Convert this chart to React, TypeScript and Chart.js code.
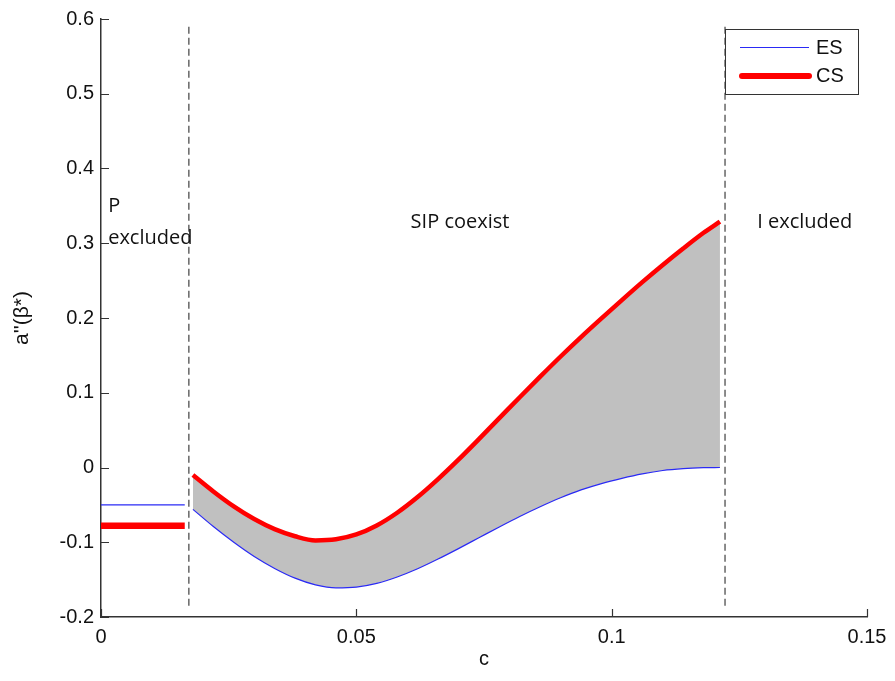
import React, { useEffect, useRef } from 'react';
import { Chart, registerables } from 'chart.js';

Chart.register(...registerables);

// ---- data ----
const coexistC = [0.018, 0.022, 0.026, 0.030, 0.034, 0.038, 0.042, 0.046, 0.050, 0.054, 0.058, 0.062, 0.066, 0.070, 0.074, 0.078, 0.082, 0.086, 0.090, 0.094, 0.098, 0.102, 0.106, 0.110, 0.114, 0.118, 0.1212];
const csValues = [-0.010, -0.032, -0.052, -0.069, -0.0825, -0.092, -0.0975, -0.096, -0.0895, -0.0775, -0.0605, -0.0395, -0.0155, 0.0105, 0.038, 0.066, 0.094, 0.1215, 0.1485, 0.1745, 0.1995, 0.224, 0.248, 0.271, 0.293, 0.314, 0.329];
const esValues = [-0.056, -0.079, -0.100, -0.119, -0.135, -0.148, -0.157, -0.161, -0.160, -0.155, -0.1465, -0.1355, -0.1225, -0.1085, -0.094, -0.0795, -0.0655, -0.0525, -0.0405, -0.030, -0.0215, -0.0145, -0.0085, -0.004, -0.0015, -0.0003, 0.0];
const pExcludedC = [0, 0.0164];
const esPExcluded = -0.05;
const csPExcluded = -0.078;
const boundaries = [0.0172, 0.1222];
const boundarySpan = [-0.185, 0.59];
const xTicks = [0, 0.05, 0.1, 0.15];
const yTicks = [-0.2, -0.1, 0, 0.1, 0.2, 0.3, 0.4, 0.5, 0.6];
const regionLabels = [
  { lines: ['P', 'excluded'], c: 0.0014, v: 0.349, align: 'left' },
  { lines: ['SIP coexist'], c: 0.0703, v: 0.3276, align: 'center' },
  { lines: ['I excluded'], c: 0.1285, v: 0.3276, align: 'left' },
];
const seriesNames = ['ES', 'CS'];

const BLUE = '#2a2af5';
const RED = '#ff0000';
const AXIS = '#333333';
const TICK_FONT = '20px "Liberation Sans", Arial, sans-serif';

const fmt = (v: number) => String(Number(v.toFixed(3)));

const decorPlugin = {
  id: 'decor',
  afterDraw(chart: any) {
    const { ctx, chartArea, scales } = chart;
    const xs = scales.x;
    const ys = scales.y;
    ctx.save();
    // inward ticks
    ctx.strokeStyle = AXIS;
    ctx.lineWidth = 1.2;
    ctx.beginPath();
    yTicks.forEach((t) => {
      const py = Math.round(ys.getPixelForValue(t)) + 0.5;
      ctx.moveTo(chartArea.left, py);
      ctx.lineTo(chartArea.left + 8, py);
    });
    xTicks.forEach((t) => {
      const px = Math.round(xs.getPixelForValue(t)) + 0.5;
      ctx.moveTo(px, chartArea.bottom);
      ctx.lineTo(px, chartArea.bottom - 8);
    });
    ctx.stroke();

    // region labels
    ctx.fillStyle = '#111';
    ctx.font = '20px "Open Sans", sans-serif';
    ctx.textBaseline = 'middle';
    regionLabels.forEach((r) => {
      ctx.textAlign = r.align as CanvasTextAlign;
      const px = xs.getPixelForValue(r.c);
      const py = ys.getPixelForValue(r.v);
      if (r.lines.length === 1) {
        ctx.fillText(r.lines[0], px, py);
      } else {
        ctx.fillText(r.lines[0], px, py);
        ctx.fillText(r.lines[1], px, py + 32);
      }
    });

    // legend box
    const bx = chartArea.right - 142;
    const by = chartArea.top + 10;
    const bw = 133;
    const bh = 65;
    ctx.fillStyle = '#ffffff';
    ctx.fillRect(bx, by, bw, bh);
    ctx.strokeStyle = AXIS;
    ctx.lineWidth = 1;
    ctx.strokeRect(bx + 0.5, by + 0.5, bw, bh);
    ctx.font = TICK_FONT;
    ctx.textAlign = 'left';
    ctx.textBaseline = 'middle';
    // ES
    ctx.strokeStyle = BLUE;
    ctx.lineWidth = 1;
    ctx.beginPath();
    ctx.moveTo(bx + 15, by + 18.5);
    ctx.lineTo(bx + 84, by + 18.5);
    ctx.stroke();
    ctx.fillStyle = '#111';
    ctx.fillText(seriesNames[0], bx + 91, by + 19);
    // CS
    ctx.strokeStyle = RED;
    ctx.lineWidth = 6;
    ctx.lineCap = 'round';
    ctx.beginPath();
    ctx.moveTo(bx + 17, by + 47);
    ctx.lineTo(bx + 84, by + 47);
    ctx.stroke();
    ctx.fillText(seriesNames[1], bx + 91, by + 47);
    ctx.restore();
  },
};

export default function App() {
  const ref = useRef<HTMLCanvasElement>(null);
  useEffect(() => {
    document.body.style.margin = '0';
    const line = (pts: { x: number; y: number }[], color: string, width: number, extra: any = {}) => ({
      data: pts,
      borderColor: color,
      borderWidth: width,
      pointRadius: 0,
      showLine: true,
      fill: false,
      ...extra,
    });
    const csMid = coexistC.map((c, i) => ({ x: c, y: csValues[i] }));
    const esMid = coexistC.map((c, i) => ({ x: c, y: esValues[i] }));
    const chart = new Chart(ref.current!, {
      type: 'scatter',
      data: {
        datasets: [
          line(pExcludedC.map((c) => ({ x: c, y: esPExcluded })), BLUE, 1.2),
          line(pExcludedC.map((c) => ({ x: c, y: csPExcluded })), RED, 6.5),
          line(csMid, RED, 4.5, { fill: { target: 3 }, backgroundColor: '#c0c0c0', cubicInterpolationMode: 'monotone' }),
          line(esMid, BLUE, 1.2, { cubicInterpolationMode: 'monotone' }),
          line(boundarySpan.map((v) => ({ x: boundaries[0], y: v })), '#666666', 1.5, { borderDash: [7, 4] }),
          line(boundarySpan.map((v) => ({ x: boundaries[1], y: v })), '#666666', 1.5, { borderDash: [7, 4] }),
        ] as any,
      },
      options: {
        responsive: false,
        animation: false,
        layout: { padding: { left: 0, right: 28, top: 15, bottom: 0 } },
        plugins: {
          legend: { display: false },
          tooltip: { enabled: false },
          filler: { drawTime: 'beforeDatasetsDraw' } as any,
        },
        scales: {
          x: {
            type: 'linear',
            min: 0,
            max: 0.15,
            afterFit: (s: any) => { s.height = 64; },
            afterBuildTicks: (s: any) => { s.ticks = xTicks.map((v) => ({ value: v })); },
            grid: { display: false, drawTicks: false },
            border: { display: true, color: AXIS, width: 1.5 },
            ticks: {
              color: '#111',
              padding: 8,
              maxRotation: 0,
              autoSkip: false,
              font: { family: '"Liberation Sans", Arial, sans-serif', size: 20 },
              callback: (v: any) => fmt(Number(v)),
            },
            title: {
              display: true,
              text: 'c',
              color: '#111',
              font: { family: '"Liberation Sans", Arial, sans-serif', size: 20 },
              padding: { top: 0, bottom: 10 },
            },
          },
          y: {
            type: 'linear',
            min: -0.2,
            max: 0.6,
            afterFit: (s: any) => { s.width = 101; },
            afterBuildTicks: (s: any) => { s.ticks = yTicks.map((v) => ({ value: v })); },
            grid: { display: false, drawTicks: false },
            border: { display: true, color: AXIS, width: 1.5 },
            ticks: {
              color: '#111',
              padding: 7,
              autoSkip: false,
              font: { family: '"Liberation Sans", Arial, sans-serif', size: 20 },
              callback: (v: any) => fmt(Number(v)),
            },
            title: {
              display: true,
              text: "a''(β*)",
              color: '#111',
              font: { family: '"Liberation Sans", Arial, sans-serif', size: 21 },
              padding: { top: 10, bottom: 0 },
            },
          },
        },
      },
      plugins: [decorPlugin],
    });
    return () => chart.destroy();
  }, []);
  return (
    <div style={{ width: 895, height: 681 }}>
      <canvas ref={ref} width={895} height={681} style={{ display: 'block' }} />
    </div>
  );
}
